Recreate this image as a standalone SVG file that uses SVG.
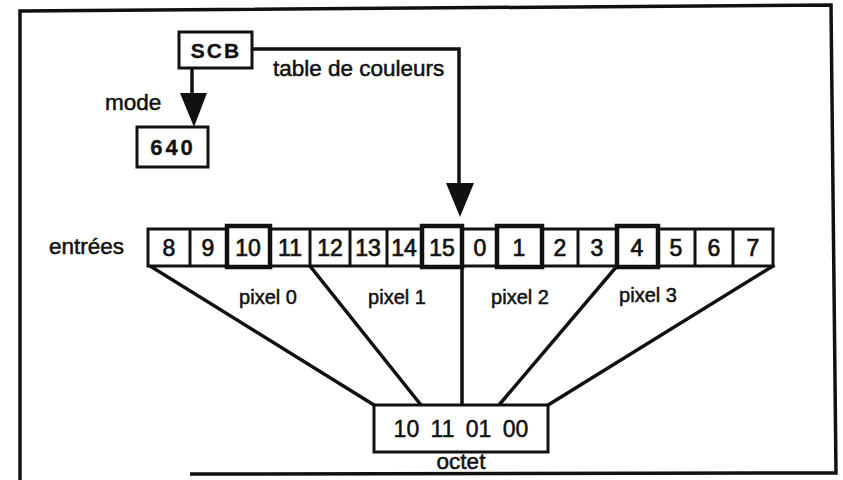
<svg xmlns="http://www.w3.org/2000/svg" width="843" height="480" viewBox="0 0 843 480">
<style>
.t{font-family:"Liberation Sans",Arial,sans-serif;fill:#111;stroke:#111;stroke-width:0.5}
.lbl{font-size:22.5px}
.cell{font-size:23px;text-anchor:middle;stroke-width:0.7}
.b{font-weight:bold;stroke-width:0.3}
.box{fill:#fff;stroke:#111;stroke-width:3}
.thick{fill:#fff;stroke:#111;stroke-width:4.5}
.ln{stroke:#111;stroke-width:3.5;fill:none;stroke-linecap:square}
</style>
<rect width="843" height="480" fill="#fff"/>
<g id="frame" fill="none" stroke="#111" stroke-width="3.5">
<path d="M20,480 V11 L831,5 L836,473 L190,474"/>
</g>
<g id="connectors">
<path class="ln" d="M192,68 V96" stroke-width="4.5"/>
<polygon points="180,93 207,93 194,127" fill="#111"/>
<path class="ln" d="M252,49 H459 V186" stroke-width="4.5"/>
<polygon points="446,183 474,183 460,217" fill="#111"/>
<path class="ln" d="M150,266 L374,405 M310,266 L421,405 M462,266 L462,405 M617,266 L499,405 M773,266 L548,405"/>
</g>
<g id="scb"><rect class="box" x="179" y="32" width="73" height="36" stroke-width="3.5"/><text class="t b" x="216" y="58" font-size="21" text-anchor="middle" letter-spacing="2">SCB</text></g>
<g id="n640"><rect class="box" x="137" y="127" width="71" height="40"/><text class="t b" x="173" y="155" font-size="22" text-anchor="middle" letter-spacing="3">640</text></g>
<text class="t lbl" x="105" y="110">mode</text>
<text class="t lbl" x="273" y="76" font-size="23">table de couleurs</text>
<text class="t lbl" x="49" y="254" font-size="23">entrées</text>
<g id="row">
<rect class="box" x="148" y="229" width="625" height="37"/>
<path stroke="#111" stroke-width="3" d="M190,229V266M310,229V266M350,229V266M387,229V266M462,229V266M578,229V266M695,229V266M733,229V266"/>
<rect class="thick" x="227" y="226" width="43" height="41"/>
<rect class="thick" x="422" y="226" width="40" height="41"/>
<rect class="thick" x="497" y="226" width="45" height="41"/>
<rect class="thick" x="617" y="226" width="41" height="41"/>
<g class="t cell">
<text x="169" y="256">8</text><text x="208" y="256">9</text><text x="248" y="256">10</text><text x="290" y="256">11</text><text x="330" y="256">12</text><text x="368" y="256">13</text><text x="404" y="256">14</text><text x="442" y="256">15</text><text x="480" y="256">0</text><text x="519" y="256">1</text><text x="560" y="256">2</text><text x="597" y="256">3</text><text x="637" y="256">4</text><text x="676" y="256">5</text><text x="714" y="256">6</text><text x="753" y="256">7</text>
</g>
</g>
<g class="t" font-size="20" text-anchor="middle">
<text x="268" y="304">pixel 0</text><text x="397" y="304">pixel 1</text><text x="520" y="304">pixel 2</text><text x="648" y="302">pixel 3</text>
</g>
<g id="octet"><rect class="box" x="374" y="405" width="174" height="47"/><text class="t" x="461" y="437" font-size="23" text-anchor="middle" word-spacing="5">10 11 01 00</text></g>
<text class="t lbl" x="461" y="469" text-anchor="middle" font-size="23">octet</text>
</svg>
